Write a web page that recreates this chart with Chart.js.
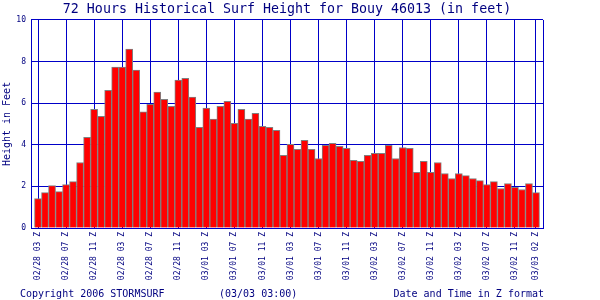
<!DOCTYPE html>
<html><head><meta charset="utf-8">
<script src="https://cdn.jsdelivr.net/npm/chart.js@4.4.0/dist/chart.umd.min.js"></script>
<style>html,body{margin:0;padding:0;background:#fff}#wrap{width:600px;height:300px}</style>
</head><body><div id="wrap"><canvas id="c" width="600" height="300"></canvas></div>
<script>
// Hourly surf heights (feet), 02/28 03Z .. 03/03 02Z
const heights = [
  1.41,1.70,2.04,1.75,2.09,2.23,3.15,4.36,5.71,5.37,6.62,7.73,7.73,8.60,7.59,5.58,5.95,6.53,
  6.19,5.85,7.11,7.20,6.29,4.84,5.76,5.23,5.85,6.09,5.03,5.71,5.23,5.51,4.89,4.84,4.69,3.49,
  4.02,3.78,4.21,3.78,3.34,3.97,4.07,3.92,3.83,3.25,3.20,3.49,3.59,3.59,3.97,3.34,3.87,3.83,2.67,
  3.20,2.67,3.15,2.62,2.38,2.62,2.52,2.38,2.28,2.09,2.23,1.90,2.14,1.95,1.85,2.14,1.70
];
// hour index of each labelled tick
const tickHours = [0,4,8,12,16,20,24,28,32,36,40,44,48,52,56,60,64,68,71];
const tickLabels = [
  "02/28 03 Z","02/28 07 Z","02/28 11 Z","02/28 03 Z","02/28 07 Z","02/28 11 Z",
  "03/01 03 Z","03/01 07 Z","03/01 11 Z","03/01 03 Z","03/01 07 Z","03/01 11 Z",
  "03/02 03 Z","03/02 07 Z","03/02 11 Z","03/02 03 Z","03/02 07 Z","03/02 11 Z",
  "03/03 02 Z"
];
const yTicks = [0,2,4,6,8,10];
const titleText = "72 Hours Historical Surf Height for Bouy 46013 (in feet)";
const yTitle = "Height in Feet";
const footLeft = "Copyright 2006 STORMSURF";
const footMid = "(03/03 03:00)";
const xTitle = "Date and Time in Z format";

const NAVY = '#000080';
const BLUE = '#0000c8';
const FONT = '"DejaVu Sans Mono", "Liberation Mono", monospace';

const footer = {
  id: 'footer',
  afterDraw(chart) {
    const ctx = chart.ctx;
    ctx.save();
    ctx.font = '10px ' + FONT;
    ctx.fillStyle = NAVY;
    ctx.textBaseline = 'alphabetic';
    ctx.textAlign = 'left';
    ctx.fillText(footLeft, 20, 297);
    ctx.fillText(footMid, 219, 297);
    ctx.textAlign = 'right';
    ctx.fillText(xTitle, chart.chartArea.right + 1, 297);
    ctx.restore();
  }
};

new Chart(document.getElementById('c'), {
  type: 'bar',
  data: {
    datasets: [{
      data: heights.map((v, i) => ({x: i, y: v})),
      backgroundColor: '#ff0000',
      borderColor: '#808080',
      borderWidth: 1,
      barPercentage: 1,
      categoryPercentage: 1
    }]
  },
  options: {
    responsive: false,
    devicePixelRatio: 1,
    animation: false,
    layout: {padding: {left: 0, right: 57, top: 0, bottom: 0}},
    plugins: {
      legend: {display: false},
      tooltip: {enabled: false},
      title: {
        display: true, text: titleText, color: NAVY, fullSize: false,
        font: {family: FONT, size: 13.3, weight: 'normal'},
        padding: {top: 2, bottom: 2}
      }
    },
    scales: {
      x: {
        type: 'linear', min: -1, max: 72, offset: false,
        afterBuildTicks: s => { s.ticks = [-1, ...tickHours, 72].map(v => ({value: v})); },
        afterFit: s => { s.height = 72; },
        ticks: {
          autoSkip: false, maxRotation: 90, minRotation: 90, padding: 4,
          color: NAVY, font: {family: FONT, size: 8},
          callback: v => { const k = tickHours.indexOf(v); return k >= 0 ? tickLabels[k] : ''; }
        },
        grid: {color: BLUE, lineWidth: 1, drawTicks: false, offset: false},
        border: {display: true, color: BLUE, width: 1}
      },
      y: {
        min: 0, max: 10,
        afterBuildTicks: s => { s.ticks = yTicks.map(v => ({value: v})); },
        afterFit: s => { s.width = 31; },
        ticks: {padding: 5, color: NAVY, font: {family: FONT, size: 8}},
        grid: {color: BLUE, lineWidth: 1, drawTicks: false},
        border: {display: true, color: BLUE, width: 1},
        title: {display: true, text: yTitle, color: NAVY, font: {family: FONT, size: 10}, padding: {top: 1, bottom: 0}}
      }
    }
  },
  plugins: [footer]
});
</script></body></html>
